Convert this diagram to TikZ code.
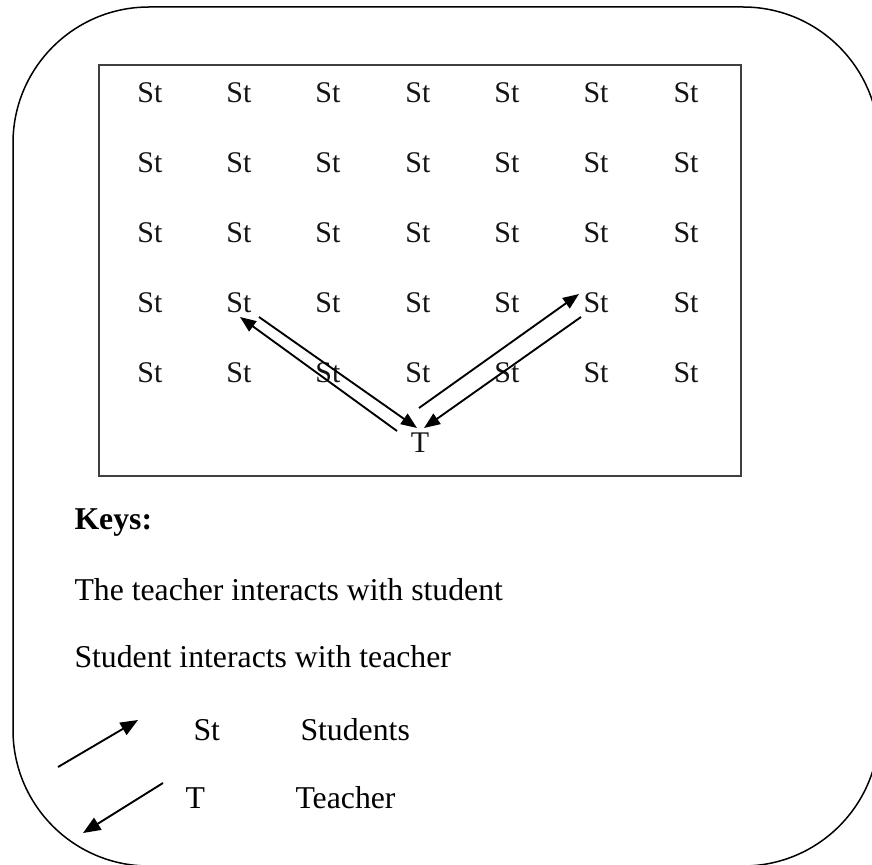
\documentclass[tikz,border=0pt]{standalone}
\usepackage{fontspec}
\setmainfont{Liberation Serif}
\usetikzlibrary{arrows.meta, calc}
\definecolor{roomInk}{RGB}{20,20,20}
\definecolor{roomEdge}{RGB}{64,64,64}
\tikzset{
  % one seat label in the classroom grid
  seat/.style={font=\fontsize{12}{14}\selectfont, text=roomInk, inner sep=1pt},
  % lines of the key below the classroom
  keytext/.style={font=\fontsize{12.7}{15}\selectfont, text=black, inner sep=0pt, anchor=west},
  % arrows
  talk/.style={-{Triangle[length=6.4pt,width=5pt]}, draw=black, line width=0.75pt},
  keytalk/.style={-{Triangle[length=7pt,width=5.6pt]}, draw=black, line width=0.75pt},
}

\begin{document}
\begin{tikzpicture}[x=0.4pt, y=-0.4pt]
\useasboundingbox (0,0) rectangle (872,865);
\clip (0,0) rectangle (872,865);

% ===========================================================================
% OUTER ROUNDED FRAME AND CLASSROOM
% ===========================================================================
\draw[line width=0.6pt, rounded corners=54.4pt] (13,7) rectangle (879,866);
\draw[draw=roomEdge, line width=0.9pt] (99,65) rectangle (741,476);

\foreach \r [count=\i] in {93,163,233,303,373}
  \foreach \c [count=\j] in {150,239,328,418,507,596,686}
    \node[seat] (st\i\j) at (\c,\r) {St};

\node[seat] (teacher) at (420,443) {T};

% --- left pair: teacher <-> student (row 4, col 2) ---
\draw[talk] ($(teacher)+(-23,-12)$) -- ($(st42)+(1,14)$);
\draw[talk] ($(st42)+(20,14)$) -- ($(teacher)+(-3,-15)$);

% --- right pair: teacher <-> student (row 4, col 6) ---
\draw[talk] ($(teacher)+(-1,-35)$) -- ($(st46)+(-17,-9)$);
\draw[talk] ($(st46)+(-15,14)$) -- ($(teacher)+(4,-15)$);

% ===========================================================================
% KEY
% ===========================================================================
\node[keytext, font=\fontsize{12.7}{15}\selectfont\bfseries] (keys) at (74,523) {Keys:};
\node[keytext] (key_teacher) at (74,590) {The teacher interacts with student};
\node[keytext] (key_student) at (74,657) {Student interacts with teacher};

\node[keytext] (sym_st) at (193,730) {St};
\node[keytext] (name_st) at (300,730) {Students};
\node[keytext] (sym_t) at (185,798) {T};
\node[keytext] (name_t) at (295,798) {Teacher};

\coordinate (up_tail) at (58,767);
\coordinate (down_tip) at (83,833);
\draw[keytalk] (up_tail) -- ($(sym_st.west)+(-55,-10)$);
\draw[keytalk] ($(sym_t.west)+(-22,-15)$) -- (down_tip);

\end{tikzpicture}
\end{document}
